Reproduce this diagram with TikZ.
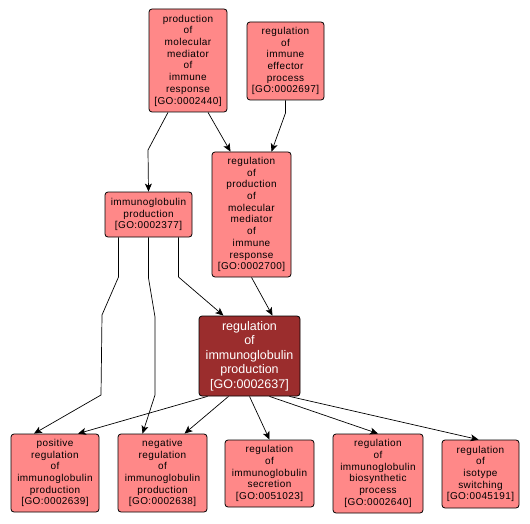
\documentclass[tikz,border=0pt]{standalone}
\usepackage{fontspec}
\setmainfont{Liberation Sans}
\newfontfamily\boxfont[LetterSpace=4]{Liberation Sans}
\usetikzlibrary{arrows.meta,calc}
\definecolor{lightn}{RGB}{255,136,136}
\definecolor{darkn}{RGB}{155,45,45}
\begin{document}
\begin{tikzpicture}[x=1pt,y=-1pt,
 box/.style={draw=black, line width=0.8pt, rounded corners=3pt, fill=lightn, align=center, font=\boxfont\fontsize{10}{11.7}\selectfont, inner sep=0pt},
 dbox/.style={box, fill=darkn, text=white, font=\rmfamily\fontsize{12.5}{14.5}\selectfont},
 conn/.style={-{Stealth[length=8pt,width=7pt,inset=2pt]}, line width=0.7pt}]
\useasboundingbox (0,0) rectangle (530,524);
\node[box, minimum width=78pt, minimum height=103pt] (A) at (188,60.5) {production\\of\\molecular\\mediator\\of\\immune\\response\\{[GO:0002440]}};
\node[box, minimum width=77pt, minimum height=78pt] (B) at (285.5,61) {regulation\\of\\immune\\effector\\process\\{[GO:0002697]}};
\node[box, minimum width=87pt, minimum height=45pt] (C) at (148.5,214.5) {immunoglobulin\\production\\{[GO:0002377]}};
\node[box, minimum width=79pt, minimum height=125pt] (D) at (251.5,214.5) {regulation\\of\\production\\of\\molecular\\mediator\\of\\immune\\response\\{[GO:0002700]}};
\node[dbox, minimum width=101pt, minimum height=80pt] (E) at (249.5,356) {regulation\\of\\immunoglobulin\\production\\{[GO:0002637]}};
\node[box, minimum width=88pt, minimum height=78pt] (F) at (55,473) {positive\\regulation\\of\\immunoglobulin\\production\\{[GO:0002639]}};
\node[box, minimum width=89pt, minimum height=78pt] (G) at (162.5,473) {negative\\regulation\\of\\immunoglobulin\\production\\{[GO:0002638]}};
\node[box, minimum width=89pt, minimum height=67pt] (H) at (269.5,473.5) {regulation\\of\\immunoglobulin\\secretion\\{[GO:0051023]}};
\node[box, minimum width=90pt, minimum height=79pt] (I) at (378,473.5) {regulation\\of\\immunoglobulin\\biosynthetic\\process\\{[GO:0002640]}};
\node[box, minimum width=77pt, minimum height=68pt] (J) at (480.5,474) {regulation\\of\\isotype\\switching\\{[GO:0045191]}};
% connectors
\draw[conn] ($(A.south)+(-20,0)$) -- (148,150) -- (C.north);
\draw[conn] ($(A.south)+(20,0)$) -- ($(D.north)+(-21,0)$);
\draw[conn] (B.south) -- (285.5,113) -- ($(D.north)+(20,0)$);
\draw[conn] ($(C.south)+(-30,0)$) -- (118.5,277) -- (102,315) -- (101,395) -- ($(F.north)+(-21,0)$);
\draw[conn] (C.south) -- (148.5,278) -- (155,317) -- (155,395) -- ($(G.north)+(-20,0)$);
\draw[conn] ($(C.south)+(30,0)$) -- (178.5,277) -- ($(E.north)+(-26,0)$);
\draw[conn] (D.south) -- ($(E.north)+(23,0)$);
\draw[conn] ($(E.south)+(-42,0)$) -- ($(F.north)+(23,0)$);
\draw[conn] ($(E.south)+(-21,0)$) -- ($(G.north)+(22,0)$);
\draw[conn] (E.south) -- (H.north);
\draw[conn] ($(E.south)+(20,0)$) -- (I.north);
\draw[conn] ($(E.south)+(40,0)$) -- ($(J.north)+(-2,0)$);
\end{tikzpicture}
\end{document}
